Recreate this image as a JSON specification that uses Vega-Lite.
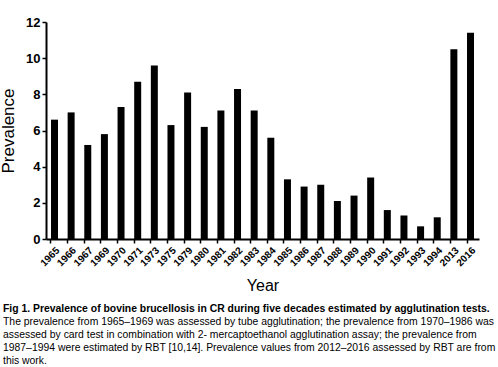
{
  "$schema": "https://vega.github.io/schema/vega-lite/v6.json",
  "width": 433,
  "height": 217,
  "autosize": "none",
  "padding": {"left": 46, "top": 22, "right": 19, "bottom": 128},
  "background": "white",
  "config": {"view": {"stroke": null}, "font": "Liberation Sans"},
  "title": {
    "text": "Fig 1. Prevalence of bovine brucellosis in CR during five decades estimated by agglutination tests.",
    "subtitle": [
      "The prevalence from 1965–1969 was assessed by tube agglutination; the prevalence from 1970–1986 was",
      "assessed by card test in combination with 2- mercaptoethanol agglutination assay; the prevalence from",
      "1987–1994 were estimated by RBT [10,14]. Prevalence values from 2012–2016 assessed by RBT are from",
      "this work."
    ],
    "orient": "bottom",
    "anchor": "start",
    "frame": "group",
    "dx": -43,
    "offset": 10,
    "font": "Liberation Sans",
    "fontSize": 10.4,
    "fontWeight": "bold",
    "color": "black",
    "subtitleFont": "Liberation Sans",
    "subtitleFontSize": 10.4,
    "subtitleColor": "black",
    "subtitlePadding": 3,
    "subtitleLineHeight": 13
  },
  "data": {
    "values": [
      {"year": "1965", "prevalence": 6.6},
      {"year": "1966", "prevalence": 7.0},
      {"year": "1967", "prevalence": 5.2},
      {"year": "1969", "prevalence": 5.8},
      {"year": "1970", "prevalence": 7.3},
      {"year": "1971", "prevalence": 8.7},
      {"year": "1973", "prevalence": 9.6},
      {"year": "1975", "prevalence": 6.3},
      {"year": "1979", "prevalence": 8.1},
      {"year": "1980", "prevalence": 6.2},
      {"year": "1981", "prevalence": 7.1},
      {"year": "1982", "prevalence": 8.3},
      {"year": "1983", "prevalence": 7.1},
      {"year": "1984", "prevalence": 5.6},
      {"year": "1985", "prevalence": 3.3},
      {"year": "1986", "prevalence": 2.9},
      {"year": "1987", "prevalence": 3.0},
      {"year": "1988", "prevalence": 2.1},
      {"year": "1989", "prevalence": 2.4},
      {"year": "1990", "prevalence": 3.4},
      {"year": "1991", "prevalence": 1.6},
      {"year": "1992", "prevalence": 1.3},
      {"year": "1993", "prevalence": 0.7},
      {"year": "1994", "prevalence": 1.2},
      {"year": "2013", "prevalence": 10.5},
      {"year": "2016", "prevalence": 11.4}
    ]
  },
  "mark": {"type": "bar", "color": "black"},
  "encoding": {
    "x": {
      "field": "year",
      "type": "ordinal",
      "sort": null,
      "scale": {"paddingInner": 0.58, "paddingOuter": 0.3},
      "axis": {
        "title": "Year",
        "titleFont": "Liberation Sans",
        "titleFontSize": 16,
        "titleFontWeight": "normal",
        "titleColor": "black",
        "titlePadding": 10,
        "labelAngle": -45,
        "labelFont": "Liberation Sans",
        "labelFontSize": 10,
        "labelFontWeight": "bold",
        "labelColor": "black",
        "labelPadding": 2,
        "domainColor": "black",
        "domainWidth": 2,
        "tickColor": "black",
        "tickWidth": 1.5,
        "tickSize": 4,
        "bandPosition": 0
      }
    },
    "y": {
      "field": "prevalence",
      "type": "quantitative",
      "scale": {"domain": [0, 12]},
      "axis": {
        "title": "Prevalence",
        "titleFont": "Liberation Sans",
        "titleFontSize": 17,
        "titleFontWeight": "normal",
        "titleColor": "black",
        "titlePadding": 8,
        "values": [0, 2, 4, 6, 8, 10, 12],
        "grid": false,
        "labelFont": "Liberation Sans",
        "labelFontSize": 13,
        "labelFontWeight": "bold",
        "labelColor": "black",
        "labelPadding": 2,
        "domainColor": "black",
        "domainWidth": 2,
        "tickColor": "black",
        "tickWidth": 1.5,
        "tickSize": 4
      }
    }
  }
}
